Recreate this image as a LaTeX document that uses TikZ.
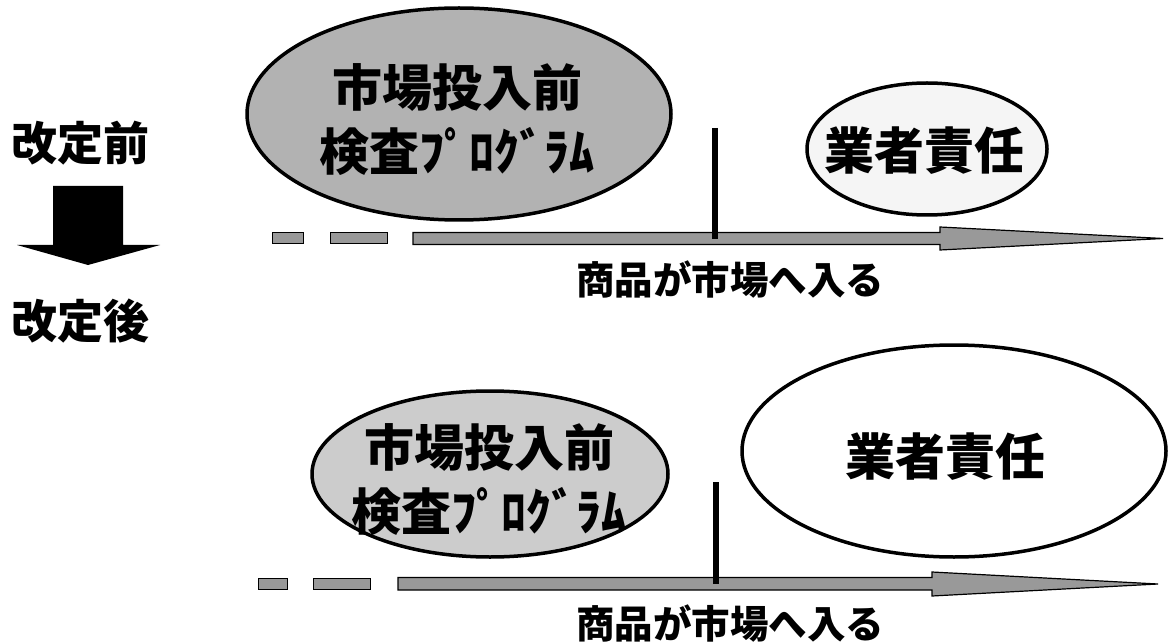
\documentclass[tikz,border=0pt]{standalone}
\usepackage{fontspec}
\newfontfamily\jp{Noto Sans CJK JP}
\usetikzlibrary{shapes.geometric}
\definecolor{progfill}{gray}{0.70}
\definecolor{progfilllight}{gray}{0.80}
\definecolor{arrowfill}{gray}{0.60}
\definecolor{dutyfill}{gray}{0.96}
\begin{document}
\begin{tikzpicture}[x=1pt,y=-1pt,
  ellbox/.style={draw=black, line width=3.5pt, ellipse, inner sep=0pt},
  jpbig/.style={font=\jp\bfseries\fontsize{50}{64}\selectfont, align=center, inner sep=0pt},
  jpside/.style={font=\jp\bfseries\fontsize{46}{50}\selectfont, inner sep=0pt},
  jplabel/.style={font=\jp\bfseries\fontsize{38.5}{40}\selectfont, inner sep=0pt},
  timearrow/.style={draw=black, line width=1.2pt, fill=arrowfill},
  dashbox/.style={draw=black, line width=1pt, fill=arrowfill},
  marker/.style={line width=6pt, black}
]
\useasboundingbox (0,0) rectangle (1169,644);

% left column
\node[jpside] (before) at (80,143) {改定前};
\node[jpside] (after) at (80,321) {改定後};
\fill[black] (53,186) -- (123,186) -- (123,245) -- (160,245) -- (88,265) -- (17,245) -- (53,245) -- cycle;

% ---- before ----
\node[ellbox, fill=progfill, minimum width=424pt, minimum height=212pt] (prog1) at (459,114) {};
\node[jpbig] (prog1t) at (457,120) {市場投入前\\検査ﾌﾟﾛｸﾞﾗﾑ};
\node[ellbox, fill=dutyfill, minimum width=240pt, minimum height=132pt] (duty1) at (927,149) {};
\node[jpbig] (duty1t) at (924,151) {業者責任};

\draw[dashbox] (272,233) rectangle (303,244);
\draw[dashbox] (330,233) rectangle (387,244);
\draw[timearrow] (413,232.5) -- (940,232.5) -- (940,227) -- (1163,238.5) -- (940,250) -- (940,244.5) -- (413,244.5) -- cycle;
\coordinate (m1top) at (715,128);
\coordinate (m1bot) at (715,239);
\draw[marker] (m1top) -- (m1bot);
\node[jplabel] (lab1) at (730,280) {商品が市場へ入る};

% ---- after ----
\node[ellbox, fill=progfilllight, minimum width=356pt, minimum height=166pt] (prog2) at (490,474) {};
\node[jpbig] (prog2t) at (489,480) {市場投入前\\検査ﾌﾟﾛｸﾞﾗﾑ};
\node[ellbox, fill=white, minimum width=424pt, minimum height=212pt] (duty2) at (954,451) {};
\node[jpbig] (duty2t) at (945,457) {業者責任};

\draw[dashbox] (258,578) rectangle (287,589);
\draw[dashbox] (313,578) rectangle (370,589);
\draw[timearrow] (398,577.5) -- (932,577.5) -- (932,572) -- (1158,584) -- (932,596) -- (932,590) -- (398,590) -- cycle;
\coordinate (m2top) at (716,482);
\coordinate (m2bot) at (716,584);
\draw[marker] (m2top) -- (m2bot);
\node[jplabel] (lab2) at (730,624) {商品が市場へ入る};
\end{tikzpicture}
\end{document}
